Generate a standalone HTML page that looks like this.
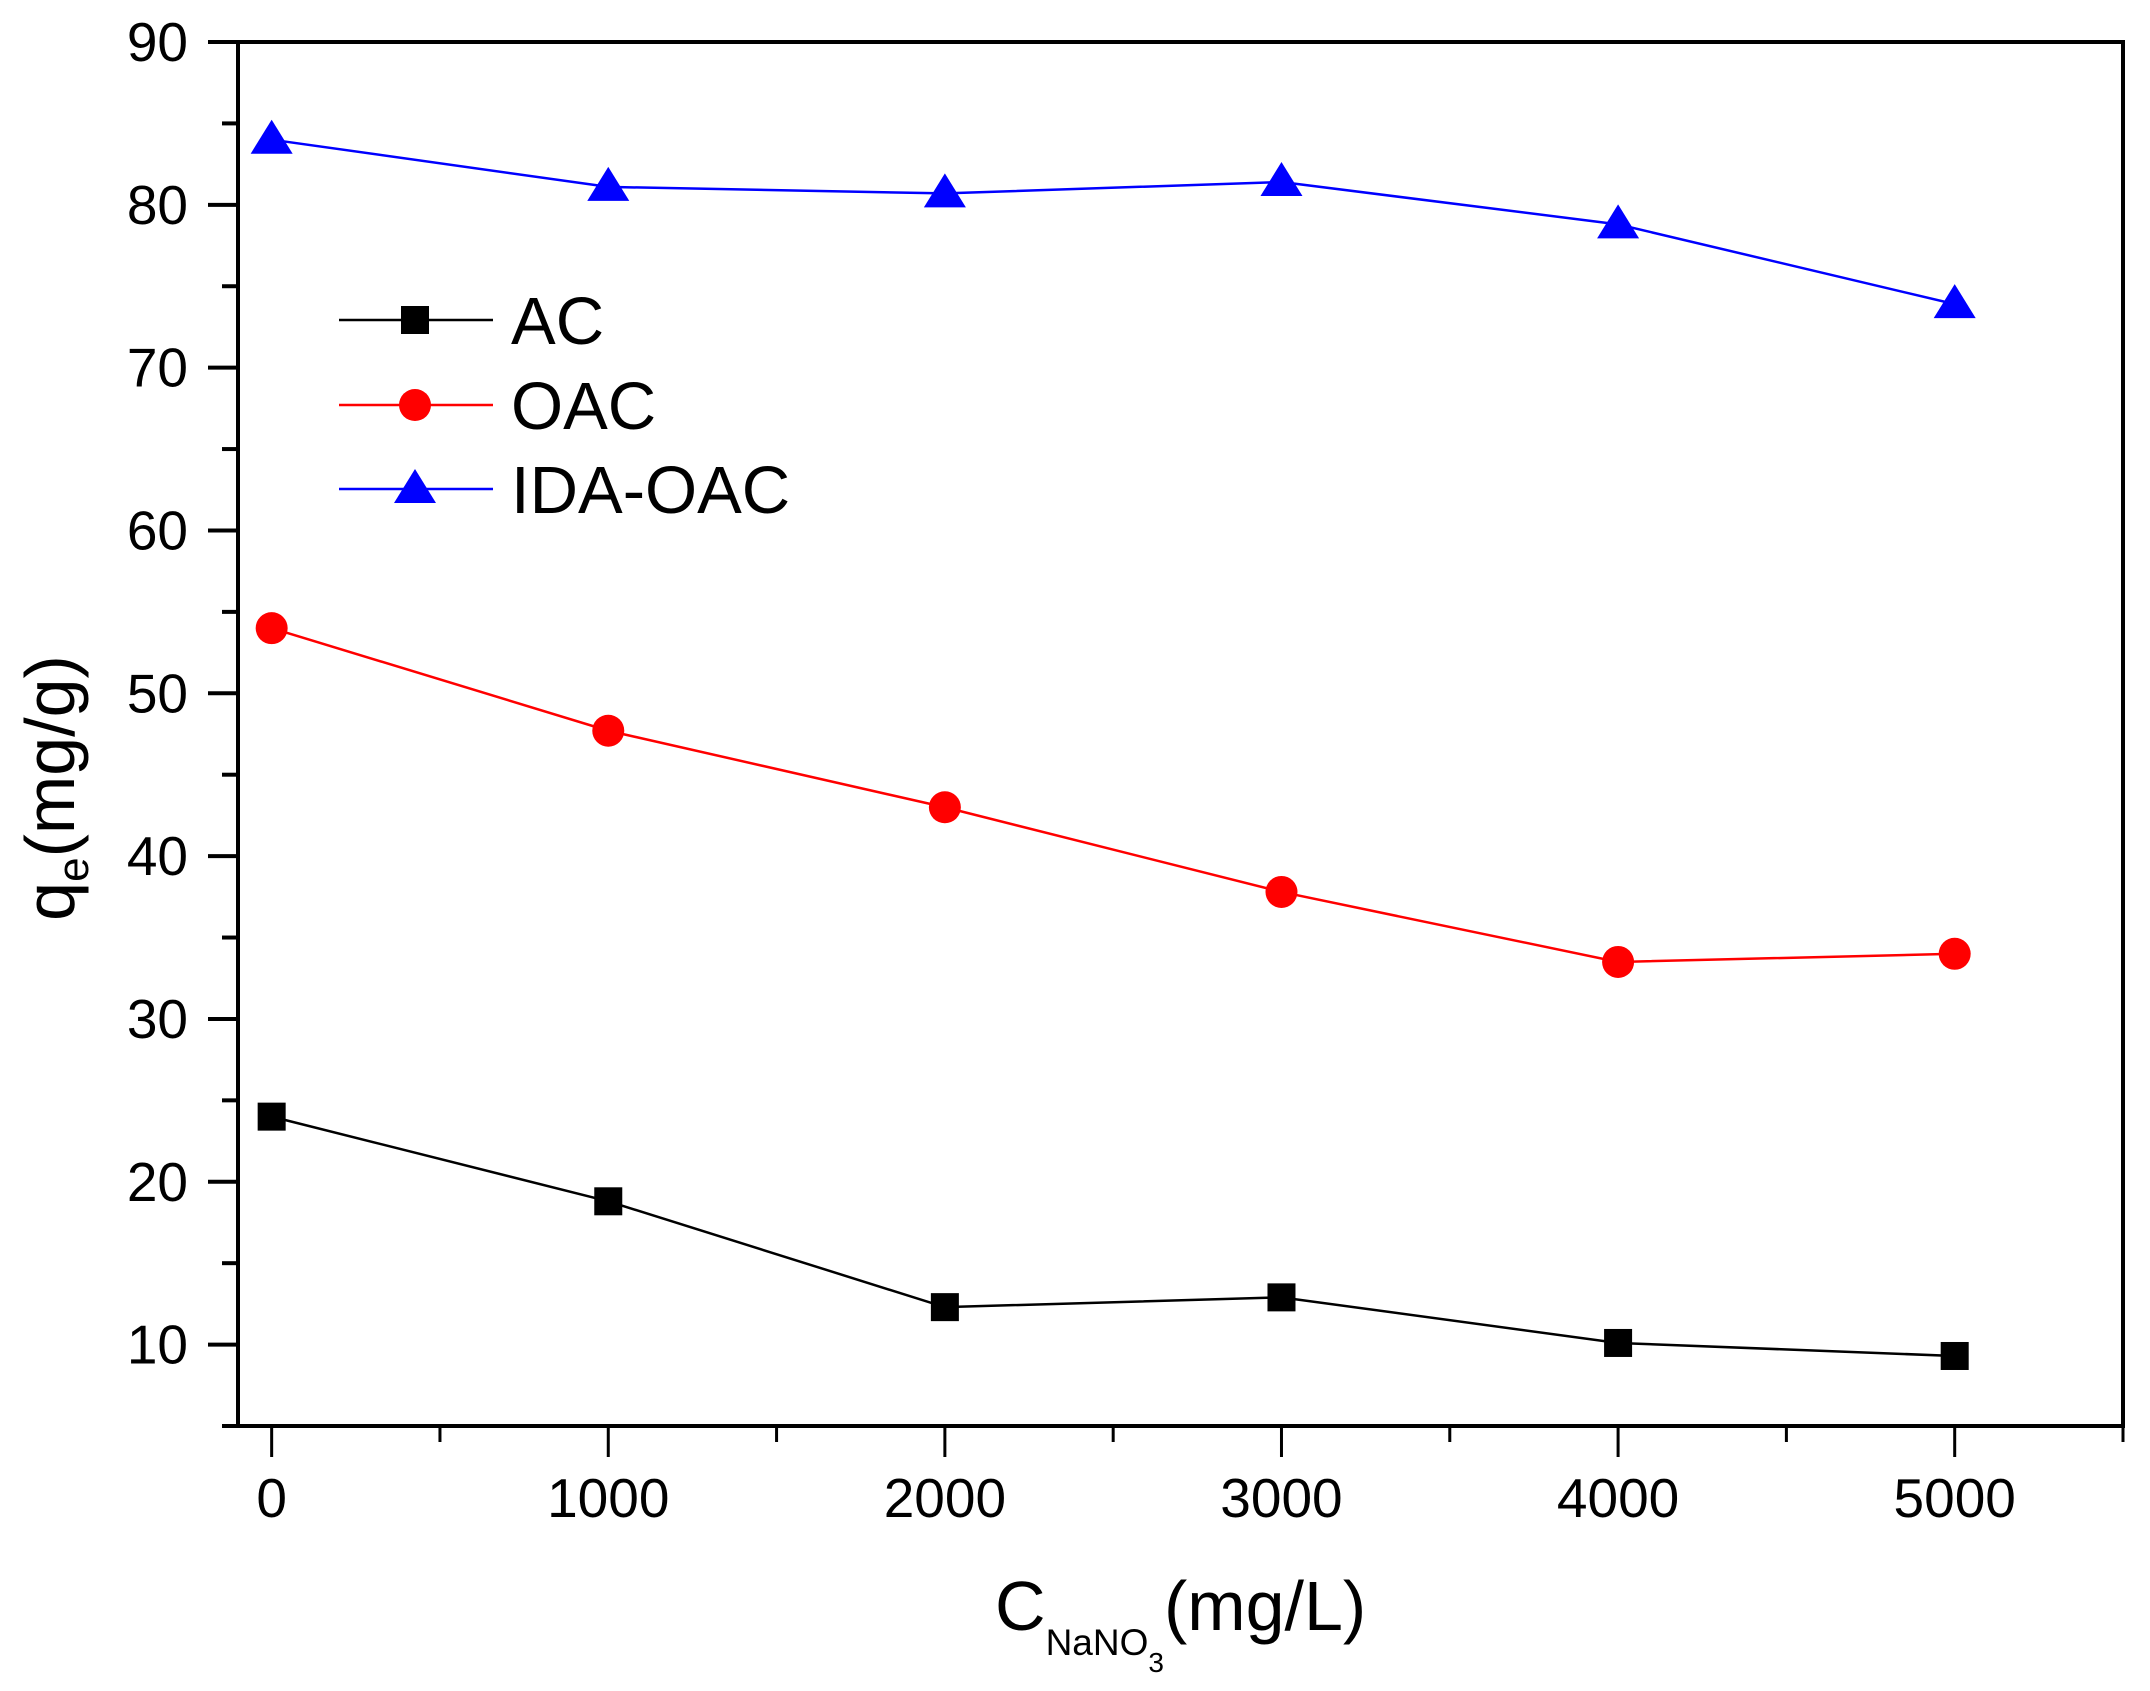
<!DOCTYPE html>
<html><head><meta charset="utf-8"><style>
html,body{margin:0;padding:0;background:#fff;}
svg{display:block;font-family:"Liberation Sans",Arial,sans-serif;}
</style></head><body>
<svg id="chart" width="2150" height="1691" viewBox="0 0 2150 1691" xmlns="http://www.w3.org/2000/svg">
<rect x="0" y="0" width="2150" height="1691" fill="#fff"/>
<g id="grid-layer"></g>
<g id="series-layer"></g>
<g id="legend"></g>
<text transform="translate(74,788) rotate(-90)" text-anchor="middle" font-size="70" fill="#000">q<tspan font-size="44" dy="14">e</tspan><tspan dy="-14">(mg/g)</tspan></text>
<text x="995" y="1630" font-size="70" fill="#000">C<tspan font-size="37" dy="25">NaNO</tspan><tspan font-size="28" dy="17">3</tspan><tspan font-size="70" dy="-42">(mg/L)</tspan></text>
</svg>
<script>
const categories = [0, 1000, 2000, 3000, 4000, 5000];
const acValues = [24.0, 18.8, 12.3, 12.9, 10.1, 9.3];
const oacValues = [54.0, 47.7, 43.0, 37.8, 33.5, 34.0];
const idaValues = [84.0, 81.1, 80.7, 81.4, 78.8, 73.9];
const xTickLabels = ["0", "1000", "2000", "3000", "4000", "5000"];
const yTickLabels = ["10", "20", "30", "40", "50", "60", "70", "80", "90"];
const legendLabels = ["AC", "OAC", "IDA-OAC"];

const NS = "http://www.w3.org/2000/svg";
const L = 238, R = 2123, T = 42, B = 1426;
const X0 = -100, X1 = 5500, Y0 = 5, Y1 = 90;
function xs(v){ return L + (v - X0) / (X1 - X0) * (R - L); }
function ys(v){ return B - (v - Y0) / (Y1 - Y0) * (B - T); }
function mk(tag, attrs, parent){
  const e = document.createElementNS(NS, tag);
  for (const k in attrs) e.setAttribute(k, attrs[k]);
  parent.appendChild(e);
  return e;
}
const axes = document.getElementById('grid-layer');
const series = document.getElementById('series-layer');
const legend = document.getElementById('legend');

for (let v = 500 * Math.ceil(X0 / 500); v <= X1; v += 500) {
  const major = v % 1000 === 0;
  const t = mk('line', {x1: xs(v), x2: xs(v), y1: B, y2: B + (major ? 31 : 16), stroke: '#000', 'stroke-width': 3}, axes);
  
  
}
xTickLabels.forEach(s => {
  const t = mk('text', {x: xs(+s), y: 1517, 'text-anchor': 'middle', 'font-size': 55, fill: '#000'}, axes);
  t.textContent = s;
  
  
});
for (let v = 5; v <= Y1; v += 5) {
  const major = v % 10 === 0;
  const t = mk('line', {x1: L - (major ? 30 : 16), x2: L, y1: ys(v), y2: ys(v), stroke: '#000', 'stroke-width': 4}, axes);
  
  
}
yTickLabels.forEach(s => {
  const t = mk('text', {x: 188, y: ys(+s) + 19, 'text-anchor': 'end', 'font-size': 55, fill: '#000'}, axes);
  t.textContent = s;
  
  
});
const frame = mk('rect', {x: L, y: T, width: R - L, height: B - T, fill: 'none', stroke: '#000', 'stroke-width': 4}, axes);



function marker(kind, cx, cy, color, parent){
  let e;
  if (kind === 'square') e = mk('rect', {x: cx - 14, y: cy - 14, width: 28, height: 28, fill: color}, parent);
  else if (kind === 'circle') e = mk('circle', {cx: cx, cy: cy, r: 16, fill: color}, parent);
  else e = mk('polygon', {points: `${cx},${cy-20} ${cx+21},${cy+14} ${cx-21},${cy+14}`, fill: color}, parent);
  return e;
}
const defs = [
  {vals: acValues, color: '#000', kind: 'square', name: 'ac'},
  {vals: oacValues, color: '#ff0000', kind: 'circle', name: 'oac'},
  {vals: idaValues, color: '#0000ff', kind: 'triangle', name: 'ida-oac'}
];
defs.forEach(d => {
  const pts = categories.map((c, i) => xs(c) + ',' + ys(d.vals[i])).join(' ');
  const pl = mk('polyline', {points: pts, fill: 'none', stroke: d.color, 'stroke-width': 2.5}, series);
  
  
  categories.forEach((c, i) => {
    const m = marker(d.kind, xs(c), ys(d.vals[i]), d.color, series);
    
    
  });
});
const legY = [320, 405, 489];
defs.forEach((d, i) => {
  const ln = mk('line', {x1: 339, x2: 493, y1: legY[i], y2: legY[i], stroke: d.color, 'stroke-width': 2.5}, legend);
  
  
  const m = marker(d.kind, 415, legY[i], d.color, legend);
  
  
  const t = mk('text', {x: 511, y: legY[i] + 24, 'font-size': 67, fill: '#000'}, legend);
  t.textContent = legendLabels[i];
  
  
});
</script>
</body></html>
